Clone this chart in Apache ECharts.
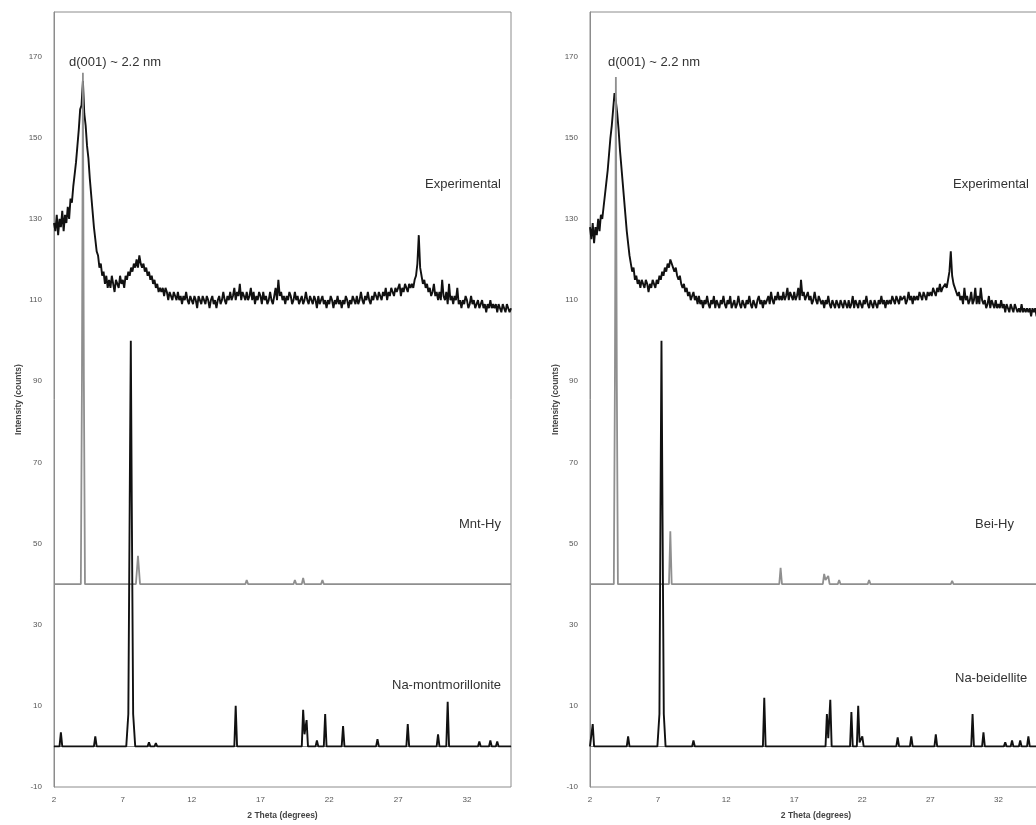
<!DOCTYPE html>
<html>
<head>
<meta charset="utf-8">
<title>XRD patterns</title>
<script src="https://cdn.jsdelivr.net/npm/echarts@6/dist/echarts.min.js"></script>
<style>
  html, body { margin: 0; padding: 0; background: #fff; overflow: hidden; }
  #xrd_chart { width: 1042px; height: 825px; }
</style>
</head>
<body>
<div id="xrd_chart"></div>
<script>
// tick labels
var xTicks = [2, 7, 12, 17, 22, 27, 32]
var yTicks = [-10, 10, 30, 50, 70, 90, 110, 130, 150, 170]

// experimental scans, 2 theta from 2.0 in 0.1 degree steps
var thetaStart = 2.0
var thetaStep = 0.1
var expMnt = [
  129, 127, 131, 126, 130, 128, 132, 127, 131, 129,
  133, 130, 135, 134, 138, 141, 144, 148, 152, 157,
  158, 164, 156, 153, 148, 145, 140, 136, 132, 128,
  125, 122, 121, 118, 119, 116, 117, 114, 116, 113,
  115, 113, 116, 114, 112, 115, 114, 113, 116, 114,
  115, 113, 116, 115, 117, 116, 118, 117, 119, 118,
  120, 118, 121, 119, 118, 119, 117, 118, 116, 117,
  115, 116, 114, 115, 113, 114, 112, 113, 112, 113,
  111, 113, 112, 110, 112, 111, 110, 112, 111, 110,
  112, 110, 111, 109, 111, 110, 112, 110, 109, 111,
  110, 109, 111, 110, 108, 111, 110, 109, 111, 110,
  109, 111, 110, 108, 110, 111, 109, 110, 108, 110,
  111, 109, 110, 112, 110, 109, 111, 110, 112, 110,
  111, 113, 110, 112, 111, 114, 110, 112, 111, 110,
  112, 110, 111, 113, 110, 112, 109, 111, 110, 112,
  111, 109, 112, 110, 111, 109, 110, 112, 110, 109,
  111, 113, 110, 115, 111, 112, 110, 111, 109, 111,
  110, 112, 111, 109, 110, 112, 110, 111, 109, 110,
  111, 109, 110, 112, 110, 109, 111, 110, 109, 111,
  110, 108, 111, 109, 110, 111, 109, 110, 108, 110,
  109, 111, 110, 108, 110, 109, 111, 109, 110, 108,
  110, 109, 111, 110, 108, 110, 109, 111, 110, 109,
  111, 109, 110, 112, 110, 109, 111, 110, 112, 110,
  109, 111, 110, 112, 111, 110, 112, 111, 110, 112,
  111, 113, 110, 112, 111, 113, 112, 111, 113, 112,
  112, 114, 111, 113, 112, 114, 113, 112, 114, 113,
  114, 113, 115, 116, 119, 126, 118, 116, 114, 115,
  113, 114, 112, 113, 111, 112, 114, 111, 112, 110,
  112, 110, 115, 111, 110, 112, 109, 114, 110, 111,
  109, 111, 110, 113, 109, 110, 108, 110, 109, 111,
  110, 108, 109, 111, 109, 110, 108, 109, 110, 108,
  109, 110, 108, 109, 107, 109, 108, 110, 108, 109,
  108, 109, 107, 109, 108, 107, 109, 108, 107, 109,
  108, 107, 108
]
var expBei = [
  128, 125, 129, 124, 128, 126, 130, 127, 131, 130,
  133, 136, 139, 142, 146, 150, 153, 157, 161, 159,
  156, 152, 147, 143, 139, 135, 131, 127, 124, 121,
  119, 117, 118, 115, 116, 114, 115, 113, 115, 114,
  113, 115, 114, 112, 114, 113, 115, 114, 113, 115,
  114, 116, 115, 117, 116, 118, 117, 119, 118, 120,
  119, 118, 117, 118, 116, 115, 116, 114, 113, 114,
  112, 113, 111, 112, 110, 111, 112, 110, 111, 109,
  111, 109, 110, 108, 110, 109, 111, 109, 108, 110,
  109, 111, 108, 110, 109, 108, 110, 109, 111, 109,
  108, 110, 109, 111, 108, 109, 110, 108, 109, 111,
  109, 108, 110, 109, 108, 110, 109, 111, 109, 108,
  110, 109, 108, 110, 111, 109, 110, 108, 110, 109,
  110, 111, 109, 112, 110, 109, 111, 110, 112, 110,
  111, 110, 112, 110, 111, 113, 110, 112, 111, 110,
  112, 110, 111, 113, 110, 115, 111, 112, 110, 111,
  112, 110, 111, 109, 110, 112, 110, 109, 111, 110,
  109, 110, 108, 110, 109, 111, 109, 108, 110, 109,
  108, 110, 109, 108, 110, 109, 108, 110, 109, 108,
  110, 108, 109, 111, 108, 110, 109, 108, 110, 109,
  108, 110, 109, 111, 109, 108, 110, 109, 108, 110,
  109, 108, 110, 109, 111, 109, 110, 108, 110, 109,
  110, 109, 111, 110, 109, 111, 110, 109, 111, 110,
  110, 111, 109, 110, 112, 110, 111, 109, 111, 110,
  111, 110, 112, 111, 110, 112, 111, 110, 112, 111,
  112, 111, 113, 112, 111, 113, 112, 114, 112, 113,
  113, 114, 113, 115, 117, 122, 116, 114, 113, 112,
  111, 112, 110, 111, 109, 113, 110, 111, 109, 110,
  112, 109, 110, 113, 109, 111, 109, 113, 110, 109,
  110, 108, 109, 111, 108, 110, 109, 108, 110, 108,
  109, 108, 110, 108, 109, 107, 109, 108, 107, 109,
  108, 107, 109, 108, 107, 108, 107, 109, 107, 108,
  107, 108, 107, 108, 106, 108, 107, 108, 106, 107,
  107, 108, 107
]

// simulated patterns as [2 theta, intensity] pairs
var mntHy = [
  [2, 40], [3.95, 40], [4.03, 90], [4.1, 166], [4.17, 90], [4.25, 40],
  [7.95, 40], [8.1, 47], [8.25, 40],
  [15.9, 40], [16.0, 41], [16.1, 40],
  [19.4, 40], [19.5, 41], [19.6, 40],
  [20.0, 40], [20.1, 41.5], [20.2, 40],
  [21.4, 40], [21.5, 41], [21.6, 40],
  [35.2, 40]
]
var naMnt = [
  [2, 0], [2.4, 0], [2.5, 3.5], [2.6, 0],
  [4.9, 0], [5.0, 2.5], [5.1, 0],
  [7.25, 0], [7.4, 8], [7.5, 60], [7.58, 100], [7.65, 60], [7.75, 8], [7.9, 0],
  [8.8, 0], [8.9, 1], [9.0, 0], [9.3, 0], [9.4, 0.8], [9.5, 0],
  [15.1, 0], [15.2, 10], [15.3, 0],
  [20.0, 0], [20.1, 9], [20.2, 3], [20.35, 6.5], [20.45, 0],
  [21.0, 0], [21.1, 1.5], [21.2, 0],
  [21.6, 0], [21.7, 8], [21.8, 0],
  [22.9, 0], [23.0, 5], [23.1, 0],
  [25.4, 0], [25.5, 1.8], [25.6, 0],
  [27.6, 0], [27.7, 5.5], [27.8, 0],
  [29.8, 0], [29.9, 3], [30.0, 0],
  [30.5, 0], [30.6, 11], [30.7, 0],
  [32.8, 0], [32.9, 1.2], [33.0, 0],
  [33.6, 0], [33.7, 1.5], [33.8, 0],
  [34.1, 0], [34.2, 1.2], [34.3, 0],
  [35.2, 0]
]
var beiHy = [
  [2, 40], [3.75, 40], [3.83, 90], [3.9, 165], [3.97, 90], [4.05, 40],
  [7.8, 40], [7.9, 53], [8.0, 40],
  [15.9, 40], [16.0, 44], [16.1, 40],
  [19.1, 40], [19.2, 42.5], [19.3, 41], [19.5, 42], [19.6, 40],
  [20.2, 40], [20.3, 41], [20.4, 40],
  [22.4, 40], [22.5, 41], [22.6, 40],
  [28.5, 40], [28.6, 40.8], [28.7, 40],
  [35.2, 40]
]
var naBei = [
  [2, 0], [2.1, 0], [2.2, 5.5], [2.3, 0],
  [4.7, 0], [4.8, 2.5], [4.9, 0],
  [6.95, 0], [7.1, 8], [7.18, 60], [7.25, 100], [7.32, 60], [7.42, 8], [7.55, 0],
  [9.5, 0], [9.6, 1.5], [9.7, 0],
  [14.7, 0], [14.8, 12], [14.9, 0],
  [19.3, 0], [19.4, 8], [19.5, 2], [19.65, 11.5], [19.75, 0],
  [21.1, 0], [21.2, 8.5], [21.3, 0],
  [21.6, 0], [21.7, 10], [21.8, 1], [22.0, 2.5], [22.1, 0],
  [24.5, 0], [24.6, 2.2], [24.7, 0],
  [25.5, 0], [25.6, 2.5], [25.7, 0],
  [27.3, 0], [27.4, 3], [27.5, 0],
  [30.0, 0], [30.1, 8], [30.2, 0],
  [30.8, 0], [30.9, 3.5], [31.0, 0],
  [32.4, 0], [32.5, 1], [32.6, 0],
  [32.9, 0], [33.0, 1.5], [33.1, 0],
  [33.5, 0], [33.6, 1.5], [33.7, 0],
  [34.1, 0], [34.2, 2.5], [34.3, 0],
  [35.2, 0]
]

function withTheta(values) {
  return values.map(function(v, i) {
    return [+(thetaStart + i * thetaStep).toFixed(2), v]
  })
}

var textFont = 'Liberation Sans, Arial, sans-serif'

function xAxisFor(gridIndex) {
  return {
    type: 'value',
    gridIndex: gridIndex,
    min: 2,
    max: 35.2,
    name: '2 Theta (degrees)',
    nameLocation: 'middle',
    nameGap: 24,
    nameTextStyle: { fontSize: 8.5, fontWeight: 'bold', color: '#444', fontFamily: textFont },
    axisLine: { show: true, lineStyle: { color: '#8c8c8c' } },
    axisTick: { show: false },
    splitLine: { show: false },
    axisLabel: {
      customValues: xTicks,
      fontSize: 8,
      color: '#555',
      margin: 9,
      fontFamily: textFont
    }
  }
}

function yAxisFor(gridIndex, gap) {
  return {
    type: 'value',
    gridIndex: gridIndex,
    min: -10,
    max: 181,
    name: 'Intensity (counts)',
    nameLocation: 'middle',
    nameGap: gap,
    nameTextStyle: { fontSize: 8.5, fontWeight: 'bold', color: '#444', fontFamily: textFont },
    axisLine: { show: true, lineStyle: { color: '#8c8c8c' } },
    axisTick: { show: false },
    splitLine: { show: false },
    axisLabel: {
      customValues: yTicks,
      fontSize: 8,
      color: '#555',
      margin: 12,
      fontFamily: textFont
    }
  }
}

function lineSeries(name, idx, data, color, width) {
  return {
    name: name,
    type: 'line',
    xAxisIndex: idx,
    yAxisIndex: idx,
    data: data,
    showSymbol: false,
    symbol: 'none',
    lineStyle: { color: color, width: width },
    silent: true
  }
}

function note(text, x, y, align) {
  return {
    type: 'text',
    left: x,
    top: y,
    style: {
      text: text,
      fill: '#333',
      font: '13px ' + textFont,
      textAlign: align,
      textVerticalAlign: 'middle'
    }
  }
}

var chart = echarts.init(document.getElementById('xrd_chart'))
chart.setOption({
  animation: false,
  backgroundColor: '#fff',
  grid: [
    { left: 54, right: 531, top: 12, bottom: 38, show: true, borderColor: '#8c8c8c', borderWidth: 1 },
    { left: 590, right: 0, top: 12, bottom: 38, show: true, borderColor: '#8c8c8c', borderWidth: 1 }
  ],
  xAxis: [xAxisFor(0), xAxisFor(1)],
  yAxis: [yAxisFor(0, 31), yAxisFor(1, 30)],
  series: [
    lineSeries('Experimental', 0, withTheta(expMnt), '#111', 1.9),
    lineSeries('Mnt-Hy', 0, mntHy, '#8f8f8f', 1.8),
    lineSeries('Na-montmorillonite', 0, naMnt, '#111', 1.9),
    lineSeries('Experimental', 1, withTheta(expBei), '#111', 1.9),
    lineSeries('Bei-Hy', 1, beiHy, '#8f8f8f', 1.8),
    lineSeries('Na-beidellite', 1, naBei, '#111', 1.9)
  ],
  graphic: [
    note('d(001) ~ 2.2 nm', 69, 56, 'left'),
    note('Experimental', 425, 178, 'left'),
    note('Mnt-Hy', 459, 518, 'left'),
    note('Na-montmorillonite', 392, 679, 'left'),
    note('d(001) ~ 2.2 nm', 608, 56, 'left'),
    note('Experimental', 953, 178, 'left'),
    note('Bei-Hy', 975, 518, 'left'),
    note('Na-beidellite', 955, 672, 'left')
  ]
})
</script>
</body>
</html>
